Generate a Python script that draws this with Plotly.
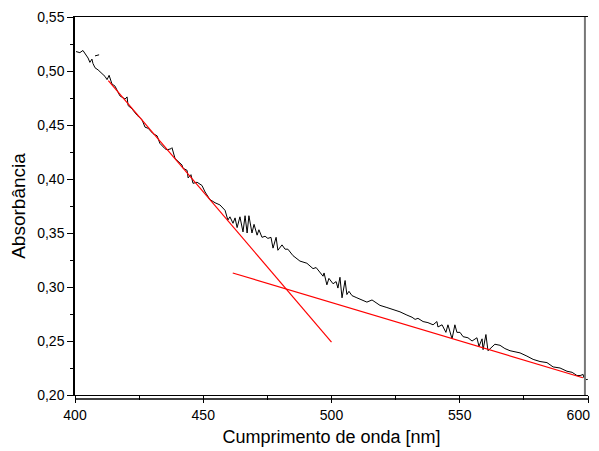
import plotly.graph_objects as go

# Measured spectrum (wavelength nm, absorbance)
wavelength = [400.4, 401.9, 403.1, 404.3, 405.1, 405.8, 406.6, 407.0, 407.8, 409.0, 410.5, 411.7, 412.5, 413.3,
              414.4, 415.6, 417.5, 419.5, 420.3, 420.7, 422.2, 424.2, 426.1, 427.3, 428.5, 430.4, 432.0, 433.1,
              435.1, 435.9, 437.4, 437.8, 439.0, 439.8, 441.7, 442.1, 443.7, 444.1, 445.2, 446.0, 447.6, 449.5,
              450.7, 452.6, 454.6, 456.5, 458.5, 459.6, 460.4, 461.6, 462.4, 463.2, 464.3, 465.5, 466.3, 467.1,
              467.8, 469.0, 469.8, 471.0, 471.7, 472.9, 474.1, 475.2, 476.4, 477.2, 478.4, 479.1, 480.7, 481.9,
              483.0, 485.0, 487.7, 490.4, 492.8, 494.0, 495.5, 496.7, 497.1, 498.2, 499.0, 500.6, 501.8, 502.5,
              503.3, 504.1, 505.3, 506.0, 506.8, 508.0, 509.9, 511.9, 513.8, 515.8, 518.9, 521.6, 524.0, 526.7,
              529.4, 531.4, 532.6, 533.7, 535.7, 537.6, 539.6, 541.1, 541.5, 543.1, 544.6, 545.4, 547.0, 548.1,
              548.9, 550.1, 551.3, 553.2, 554.8, 556.7, 557.5, 558.7, 559.1, 560.2, 561.0, 562.6, 563.7, 565.7,
              567.6, 569.6, 571.5, 573.5, 576.2, 578.6, 581.3, 584.0, 586.4, 589.1, 591.8, 593.8, 595.7, 596.9,
              598.1, 598.4, 599.6, 600.0]
absorbance = [0.518, 0.517, 0.519, 0.515, 0.512, 0.508, 0.511, 0.507, 0.503, 0.501, 0.498, 0.495, 0.492, 0.496,
              0.488, 0.486, 0.477, 0.474, 0.476, 0.468, 0.465, 0.459, 0.455, 0.448, 0.447, 0.442, 0.440, 0.433,
              0.428, 0.427, 0.428, 0.429, 0.419, 0.417, 0.413, 0.410, 0.408, 0.401, 0.404, 0.396, 0.397, 0.394,
              0.388, 0.381, 0.378, 0.376, 0.371, 0.362, 0.365, 0.359, 0.364, 0.355, 0.365, 0.351, 0.366, 0.350,
              0.366, 0.350, 0.358, 0.348, 0.353, 0.346, 0.347, 0.345, 0.346, 0.336, 0.346, 0.334, 0.339, 0.335,
              0.335, 0.329, 0.324, 0.322, 0.317, 0.318, 0.313, 0.310, 0.313, 0.302, 0.308, 0.303, 0.305, 0.299,
              0.309, 0.290, 0.306, 0.293, 0.296, 0.292, 0.290, 0.288, 0.286, 0.288, 0.283, 0.281, 0.279, 0.277,
              0.274, 0.272, 0.270, 0.271, 0.268, 0.267, 0.265, 0.268, 0.263, 0.265, 0.258, 0.265, 0.252, 0.265,
              0.258, 0.258, 0.254, 0.253, 0.250, 0.253, 0.245, 0.252, 0.242, 0.256, 0.241, 0.245, 0.247, 0.246,
              0.243, 0.241, 0.240, 0.239, 0.236, 0.233, 0.231, 0.230, 0.226, 0.225, 0.222, 0.221, 0.218, 0.218,
              0.219, 0.216, 0.214, 0.215]

# Small stray segment near the start
stray_x = [407.8, 409.4]
stray_y = [0.514, 0.515]

# Tangent (fit) lines
fit1_x = [413.0, 500.0]
fit1_y = [0.491, 0.249]
fit2_x = [461.5, 598.0]
fit2_y = [0.313, 0.216]

x_ticks = [400, 450, 500, 550, 600]
x_tick_labels = ["400", "450", "500", "550", "600\u00a0\u00a0\u00a0\u00a0\u00a0"]
y_ticks = [0.20, 0.25, 0.30, 0.35, 0.40, 0.45, 0.50, 0.55]

fig = go.Figure()
fig.add_trace(go.Scatter(x=wavelength, y=absorbance, mode="lines",
                         line=dict(color="black", width=1), showlegend=False))
fig.add_trace(go.Scatter(x=stray_x, y=stray_y, mode="lines",
                         line=dict(color="black", width=1), showlegend=False))
fig.add_trace(go.Scatter(x=fit1_x, y=fit1_y, mode="lines",
                         line=dict(color="#ff0000", width=1.2), showlegend=False))
fig.add_trace(go.Scatter(x=fit2_x, y=fit2_y, mode="lines",
                         line=dict(color="#ff0000", width=1.2), showlegend=False))

font_family = "Liberation Sans, Arial, sans-serif"

fig.update_layout(
    width=591, height=443,
    margin=dict(l=67, r=11, t=9, b=56),
    paper_bgcolor="white", plot_bgcolor="white",
    separators=",.",
    font=dict(family=font_family, size=14, color="black"),
    xaxis=dict(
        range=[400, 600], tickvals=x_ticks, ticktext=x_tick_labels, ticks="outside", ticklen=7,
        tickwidth=1, tickcolor="black", showline=True, linecolor="black", linewidth=1, mirror=True,
        showgrid=False, zeroline=False, automargin=False, ticklabeloverflow="allow",
        minor=dict(dtick=25, ticks="outside", ticklen=4, tickcolor="black", tickwidth=1, showgrid=False),
        tickfont=dict(size=14),
        title=dict(text="Cumprimento de onda [nm]", font=dict(size=18), standoff=8),
    ),
    yaxis=dict(
        range=[0.20, 0.55], tickvals=y_ticks, tickformat=".2f", ticks="outside", ticklen=6,
        tickwidth=1, tickcolor="black", showline=True, linecolor="black", linewidth=1.5,
        mirror=False, showgrid=False, zeroline=False, automargin=False, ticklabeloverflow="allow",
        minor=dict(dtick=0.025, ticks="outside", ticklen=3, tickcolor="black", tickwidth=1, showgrid=False),
        tickfont=dict(size=14),
        title=dict(text="Absorbância", font=dict(size=19), standoff=9),
    ),
    shapes=[
        dict(type="line", xref="paper", yref="paper", x0=0, x1=1, y0=-4 / 378, y1=-4 / 378,
             line=dict(color="black", width=1.5)),
        dict(type="line", xref="x", yref="paper", x0=598.8, x1=598.8, y0=0, y1=1,
             line=dict(color="#777777", width=2)),
    ],
)

fig.write_html("out.html")
